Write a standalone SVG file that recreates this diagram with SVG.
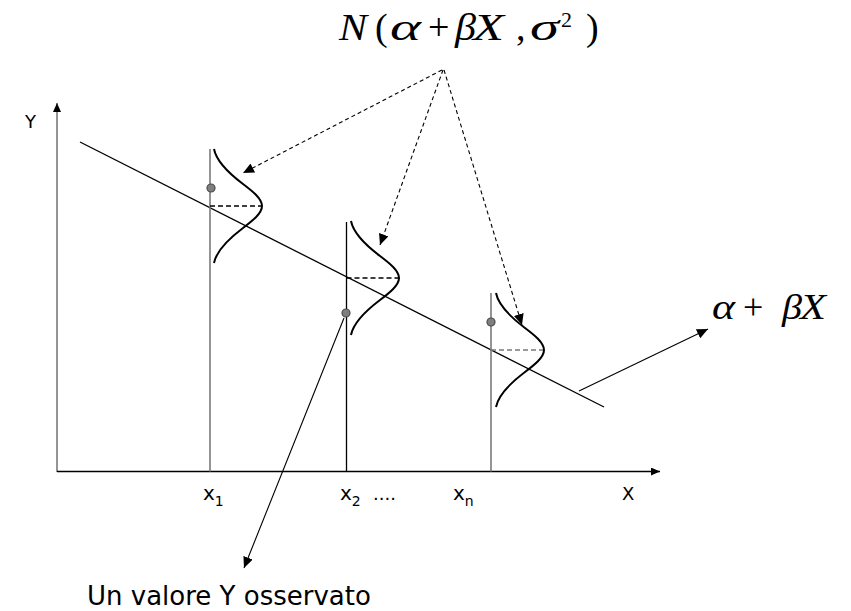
<svg xmlns="http://www.w3.org/2000/svg" xmlns:xlink="http://www.w3.org/1999/xlink" width="851" height="611" viewBox="0 0 851 611">
<style>
.ax{stroke:#000;stroke-width:1.3;fill:none}
.axg{stroke:#7a7a7a;stroke-width:1.6;fill:none}
.vk{stroke:#000;stroke-width:1.3;fill:none}
.vg{stroke:#7a7a7a;stroke-width:1.6;fill:none}
.bell{stroke:#000;stroke-width:2;fill:none}
.hd{stroke:#000;stroke-width:1.3;stroke-dasharray:5 3;fill:none}
.hdg{stroke:#7a7a7a;stroke-width:1.6;stroke-dasharray:5 3;fill:none}
.dot{fill:#7f7f7f;stroke:#4a4a4a;stroke-width:1.2}
.reg{stroke:#000;stroke-width:1.3;fill:none}
.dash{stroke:#000;stroke-width:1.1;stroke-dasharray:4 3;fill:none}
.sol{stroke:#000;stroke-width:1.1;fill:none}
.lab{font-family:"DejaVu Sans","Liberation Sans",sans-serif;fill:#000}
.math{font-family:"Liberation Serif","DejaVu Serif",serif;fill:#000}
.it{font-style:italic}
</style>
<defs>
<marker id="ah" markerUnits="userSpaceOnUse" markerWidth="12" markerHeight="10" refX="11" refY="5" orient="auto">
<path d="M0,0 L11,5 L0,10 z" fill="#000"/>
</marker>
<marker id="axh" markerUnits="userSpaceOnUse" markerWidth="10" markerHeight="8" refX="9" refY="4" orient="auto">
<path d="M0,0 L9,4 L0,8 z" fill="#000"/>
</marker>
<path id="bell" d="M0,-57 C2.3,-45.3 13.5,-33.7 29,-22 C38.7,-14.7 48,-7.3 48,0 C48,7.3 38.7,14.7 29,22 C13.5,33.7 2.3,45.3 0,57"/>
</defs>
<rect width="851" height="611" fill="#fff"/>

<g id="axes">
<line class="axg" x1="57" y1="472" x2="57" y2="103" marker-end="url(#axh)"/>
<line class="ax" x1="57" y1="471.5" x2="660" y2="471.5" marker-end="url(#axh)"/>
<text class="lab" x="25" y="128" font-size="18">Y</text>
<text class="lab" x="622" y="500" font-size="18">X</text>
</g>

<g id="regression-line">
<line class="reg" x1="80" y1="142" x2="604" y2="407"/>
</g>

<g id="obs1">
<line class="vg" x1="210" y1="149" x2="210" y2="471.5"/>
<line class="hd" x1="210" y1="206" x2="262" y2="206"/>
<use xlink:href="#bell" class="bell" transform="translate(214,206)"/>
<circle class="dot" cx="211" cy="188" r="4"/>
<text class="lab" x="203" y="500" font-size="20">x<tspan font-size="14" dy="6">1</tspan></text>
</g>

<g id="obs2">
<line class="vk" x1="346.5" y1="222" x2="346.5" y2="471.5"/>
<line class="hd" x1="346.5" y1="278" x2="399" y2="278"/>
<use xlink:href="#bell" class="bell" transform="translate(351,278)"/>
<circle class="dot" cx="346" cy="313" r="4"/>
<text class="lab" x="340" y="500" font-size="20">x<tspan font-size="14" dy="6">2</tspan></text>
<text class="lab" x="373" y="500" font-size="18">....</text>
</g>

<g id="obs3">
<line class="vg" x1="491" y1="293" x2="491" y2="471.5"/>
<line class="hdg" x1="491" y1="350" x2="543" y2="350"/>
<use xlink:href="#bell" class="bell" transform="translate(496,350)"/>
<circle class="dot" cx="491" cy="322" r="4"/>
<text class="lab" x="453" y="500" font-size="20">x<tspan font-size="14" dy="6">n</tspan></text>
</g>

<g id="label-normal">
<text class="math" y="40" font-size="38"><tspan class="it" x="339" textLength="28" lengthAdjust="spacingAndGlyphs">N</tspan><tspan x="375">(</tspan><tspan class="it" x="390" textLength="31" lengthAdjust="spacingAndGlyphs">α</tspan><tspan x="428">+</tspan><tspan class="it" x="455" textLength="21" lengthAdjust="spacingAndGlyphs">β</tspan><tspan class="it" x="473" textLength="31" lengthAdjust="spacingAndGlyphs">X</tspan><tspan x="516">,</tspan><tspan class="it" x="530" textLength="29" lengthAdjust="spacingAndGlyphs">σ</tspan><tspan x="586">)</tspan></text>
<text class="math" x="561" y="27" font-size="22">2</text>
</g>

<g id="label-line">
<text class="math" y="319" font-size="36"><tspan class="it" x="712" textLength="23" lengthAdjust="spacingAndGlyphs">α</tspan><tspan x="743">+</tspan><tspan class="it" x="782" textLength="20" lengthAdjust="spacingAndGlyphs">β</tspan><tspan class="it" x="800" textLength="26" lengthAdjust="spacingAndGlyphs">X</tspan></text>
</g>

<g id="label-observed">
<text class="lab" x="87" y="605" font-size="26">Un valore Y osservato</text>
</g>

<g id="connectors">
<line class="dash" x1="442" y1="70" x2="243" y2="173" marker-end="url(#ah)"/>
<line class="dash" x1="443" y1="70" x2="380" y2="245" marker-end="url(#ah)"/>
<line class="dash" x1="444" y1="70" x2="522" y2="325" marker-end="url(#ah)"/>
<line class="sol" x1="579" y1="391" x2="708" y2="329" marker-end="url(#ah)"/>
<line class="sol" x1="344" y1="318" x2="244" y2="568" marker-end="url(#ah)"/>
</g>
</svg>
